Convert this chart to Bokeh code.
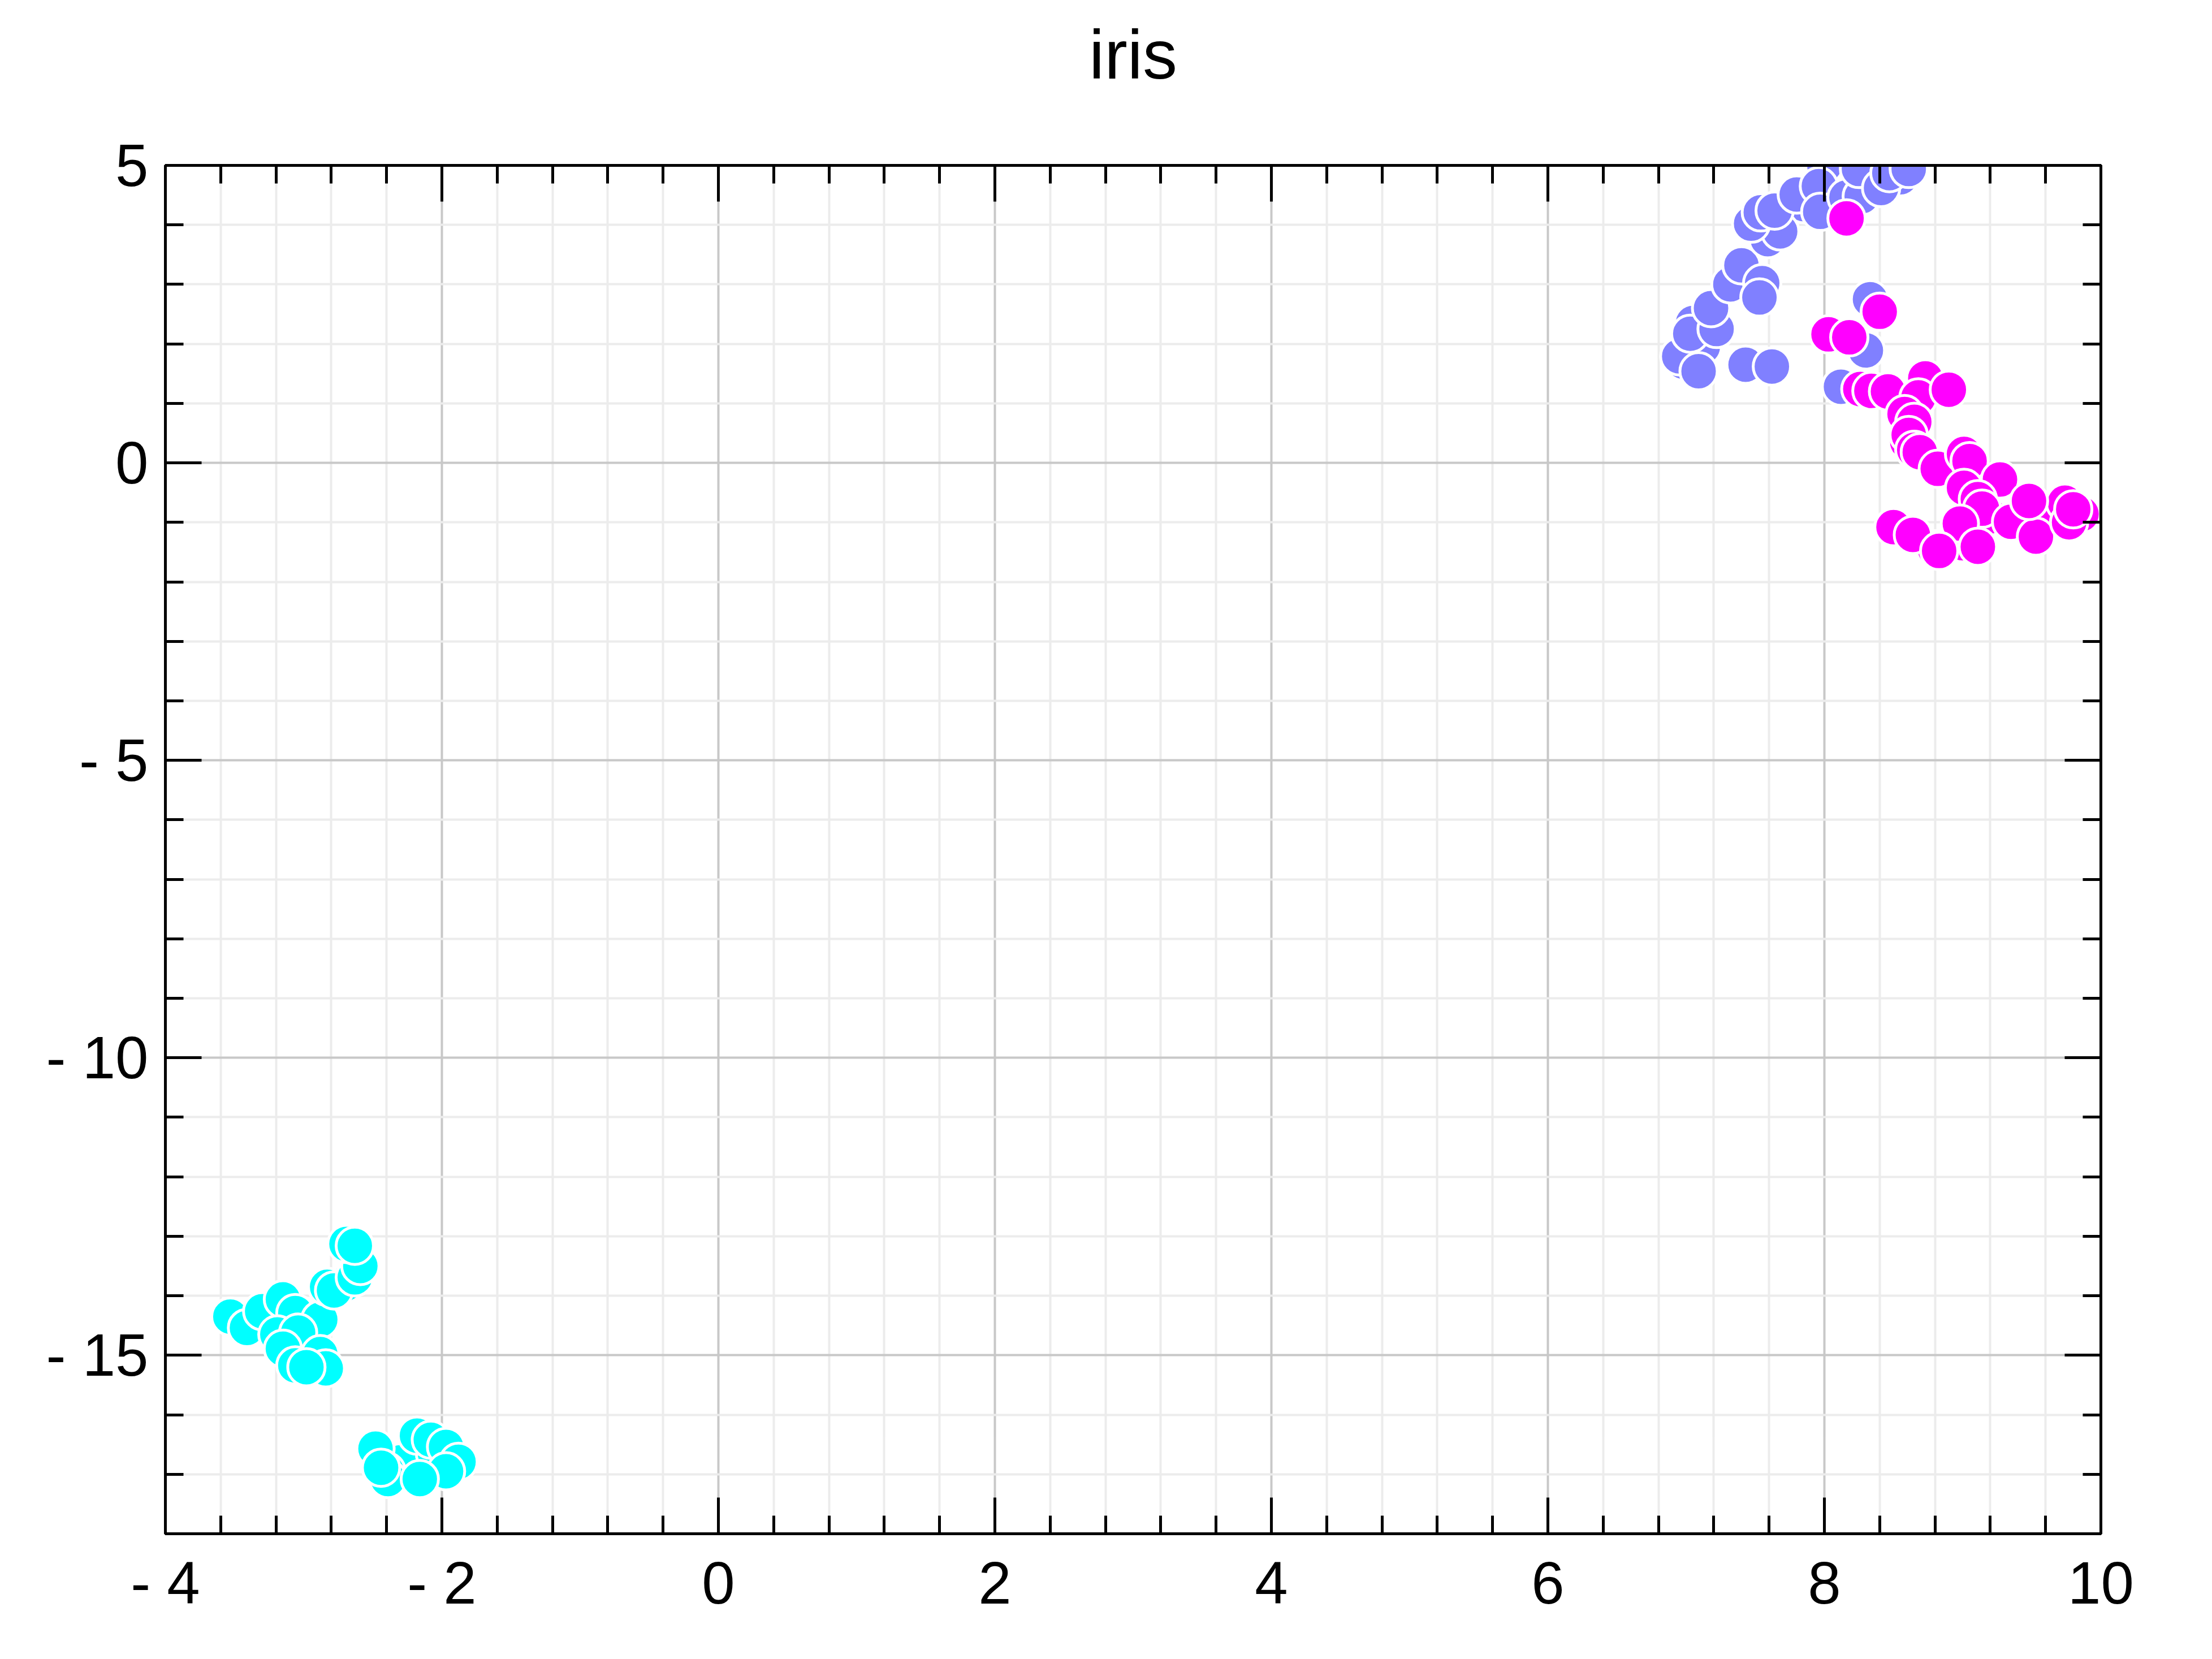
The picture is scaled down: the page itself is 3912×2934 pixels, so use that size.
from bokeh.plotting import figure
from bokeh.models import FixedTicker, LinearAxis, CustomJSTickFormatter, Title
from bokeh.embed import file_html
from bokeh.resources import INLINE

# ---- data ----
setosa_x = [-3.45, -3.00, -2.92, -3.10, -2.70, -2.60,
            -3.53, -3.41, -3.30, -3.15, -3.06, -2.88, -3.19, -3.04, -3.15,
            -3.06, -2.88, -2.84, -2.98, -2.83, -2.78, -2.63, -2.59, -2.69, -2.63,
            -2.30, -2.05, -2.40, -2.39,
            -2.48, -2.44, -2.18, -2.08, -1.97, -1.88, -1.97, -2.16]
setosa_y = [-14.45, -14.75, -14.50, -14.80, -13.80, -13.60,
            -14.35, -14.54, -14.26, -14.06, -14.29, -14.40, -14.65, -14.62, -14.89,
            -15.17, -14.98, -15.22, -15.20, -13.85, -13.91, -13.69, -13.50, -13.13, -13.16,
            -16.80, -16.65, -16.95, -17.08,
            -16.57, -16.89, -16.35, -16.42, -16.54, -16.79, -16.95, -17.08]

versicolor_x = [8.10, 8.40, 8.00, 8.55, 8.35, 7.85, 7.60, 6.98, 7.12, 7.36, 7.50, 7.05,
                6.95, 7.09, 7.03, 7.22, 7.18, 7.32, 7.40, 7.55, 7.53, 7.43, 7.62,
                7.59, 7.68, 7.47, 7.54, 7.64, 7.80, 7.96, 7.97, 8.16, 8.27, 8.25,
                8.41, 8.47, 8.61, 8.30, 8.33, 8.12]
versicolor_y = [5.10, 5.20, 5.00, 4.80, 4.70, 4.35, 3.85, 1.70, 1.95, 3.10, 2.90, 2.35,
                1.79, 1.54, 2.17, 2.25, 2.60, 3.00, 3.32, 3.02, 2.78, 1.65, 1.62,
                3.76, 3.89, 4.02, 4.21, 4.24, 4.51, 4.65, 4.22, 4.46, 4.48, 4.94,
                4.62, 4.87, 4.94, 1.89, 2.75, 1.28]

virginica_x = [8.80, 9.00, 9.55, 9.60, 9.20, 8.60,
               8.16, 8.03, 8.18, 8.40, 8.26, 8.34, 8.46, 8.73, 8.68, 8.90,
               8.58, 8.65, 8.61, 8.65, 8.69, 8.82, 9.01, 9.05, 9.27, 9.01,
               9.11, 9.14, 9.35, 9.53, 9.74, 9.86, 9.77, 9.80, 9.48,
               8.50, 8.64, 8.98, 8.83, 9.11]
virginica_y = [-1.45, -1.35, -1.00, -0.80, -0.90, 0.35,
               4.11, 2.16, 2.11, 2.54, 1.24, 1.21, 1.20, 1.42, 1.10, 1.23,
               0.82, 0.69, 0.47, 0.22, 0.18, -0.10, 0.15, 0.03, -0.28, -0.42,
               -0.61, -0.77, -0.99, -1.24, -0.67, -0.86, -1.00, -0.78, -0.64,
               -1.08, -1.21, -1.02, -1.48, -1.41]

x_major = [-4, -2, 0, 2, 4, 6, 8, 10]
x_minor = [round(-4 + 0.4 * i, 2) for i in range(36)]
y_major = [-15, -10, -5, 0, 5]
y_minor = list(range(-18, 6))

TITLE = "iris"
FONT = "Liberation Sans"

p = figure(width=3896, height=2918, x_range=(-4, 10), y_range=(-18, 5),
           output_backend="svg", toolbar_location=None,
           min_border_left=292, min_border_right=181,
           min_border_top=292, min_border_bottom=206,
           x_axis_location=None, y_axis_location=None)

# the built-in title slot is left empty; the visible title is added further out
p.title.text = ""
p.title.text_font_size = "0px"
p.title.standoff = 0

fmt = CustomJSTickFormatter(code="return tick < 0 ? '- ' + Math.abs(tick) : String(tick);")
blank = CustomJSTickFormatter(code="return '';")

xt = FixedTicker(ticks=x_major, minor_ticks=[v for v in x_minor if v not in x_major])
yt = FixedTicker(ticks=y_major, minor_ticks=[v for v in y_minor if v not in y_major])


def style(ax, labels):
    ax.axis_line_color = "black"
    ax.axis_line_width = 5
    ax.major_tick_line_color = "black"
    ax.major_tick_line_width = 5
    ax.minor_tick_line_color = "black"
    ax.minor_tick_line_width = 5
    ax.major_tick_in = 64
    ax.major_tick_out = 0
    ax.minor_tick_in = 32
    ax.minor_tick_out = 0
    ax.major_label_text_font = FONT
    ax.major_label_text_font_size = "105px"
    ax.major_label_text_color = "black"
    if not labels:
        ax.major_label_standoff = 0
        ax.major_label_text_font_size = "0px"


bx = LinearAxis(ticker=xt, formatter=fmt, major_label_standoff=28)
style(bx, True)
p.add_layout(bx, "below")
ax_top = LinearAxis(ticker=xt, formatter=blank)
style(ax_top, False)
p.add_layout(ax_top, "above")

# spacer between the top axis and the title, then the title itself
p.add_layout(Title(text="\u00a0", text_font_size="1px", standoff=125), "above")
p.add_layout(Title(text=TITLE, align="center", text_font=FONT,
                   text_font_size="122px", text_font_style="normal",
                   text_color="black", standoff=0), "above")

ly = LinearAxis(ticker=yt, formatter=fmt, major_label_standoff=30)
style(ly, True)
p.add_layout(ly, "left")
ry = LinearAxis(ticker=yt, formatter=blank)
style(ry, False)
p.add_layout(ry, "right")

p.xgrid.ticker = xt
p.ygrid.ticker = yt
for g in (p.xgrid, p.ygrid):
    g.grid_line_color = "#c8c8c8"
    g.grid_line_width = 4
    g.minor_grid_line_color = "#ececec"
    g.minor_grid_line_width = 4

p.outline_line_color = "black"
p.outline_line_width = 5
p.background_fill_color = "white"
p.border_fill_color = "white"

common = dict(size=66, line_color="white", line_width=5)
p.scatter(setosa_x, setosa_y, fill_color="#00ffff", **common)
p.scatter(versicolor_x, versicolor_y, fill_color="#8080ff", **common)
p.scatter(virginica_x, virginica_y, fill_color="#ff00ff", **common)

open("out.html", "w").write(file_html(p, INLINE))
